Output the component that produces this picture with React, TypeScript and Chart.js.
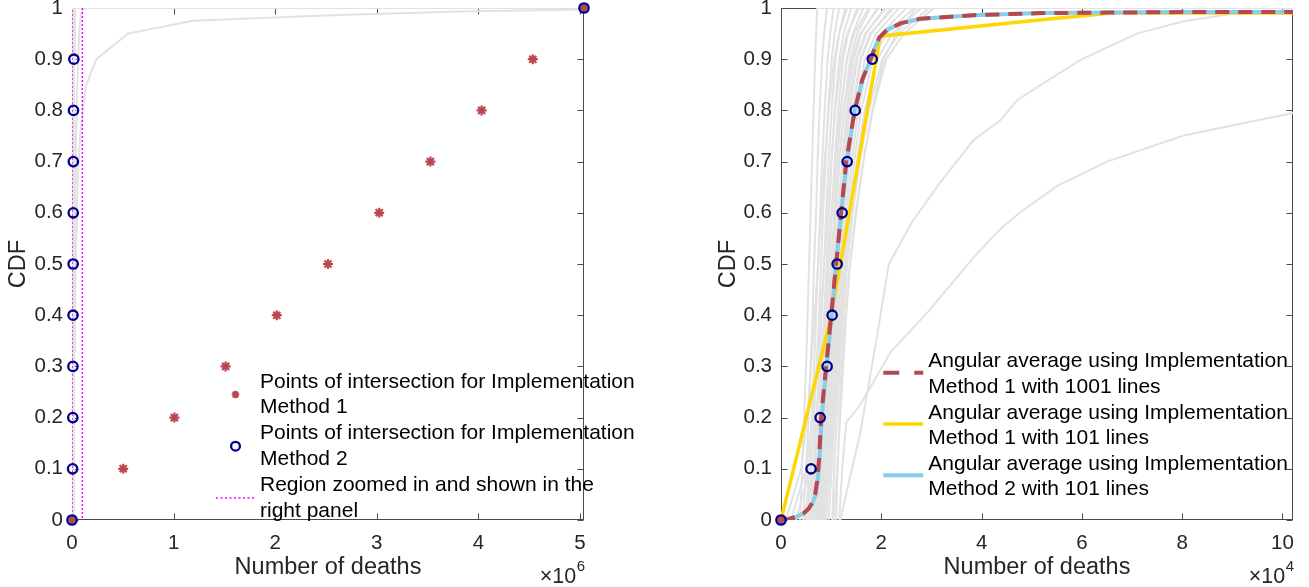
import React, { useEffect, useRef } from 'react';
import { Chart, registerables } from 'chart.js';

Chart.register(...registerables);
Chart.defaults.font.family = '"Liberation Sans", Arial, Helvetica, sans-serif';

// ---------------- DATA (x values in units of 10^4 deaths) ----------------
const cdfLevels = [0, 0.1, 0.2, 0.3, 0.4, 0.5, 0.6, 0.7, 0.8, 0.9, 0.95, 1];

// individual CDF curves (x at each cdf level)
const greyCurves = [
  [0.38, 0.42, 0.46, 0.5, 0.53, 0.56, 0.59, 0.62, 0.65, 0.68, 0.7, 0.72],
  [0.44, 0.5, 0.55, 0.59, 0.63, 0.66, 0.7, 0.73, 0.77, 0.82, 0.86, 0.92],
  [0.5, 0.56, 0.61, 0.66, 0.7, 0.74, 0.78, 0.82, 0.87, 0.93, 0.98, 1.05],
  [0.54, 0.6, 0.66, 0.71, 0.76, 0.8, 0.84, 0.89, 0.94, 1.01, 1.07, 1.16],
  [0.58, 0.65, 0.71, 0.76, 0.81, 0.86, 0.9, 0.95, 1.01, 1.09, 1.16, 1.28],
  [0.62, 0.69, 0.75, 0.81, 0.86, 0.91, 0.96, 1.01, 1.07, 1.16, 1.25, 1.4],
  [0.65, 0.72, 0.79, 0.85, 0.9, 0.96, 1.01, 1.07, 1.14, 1.24, 1.34, 1.52],
  [0.68, 0.76, 0.83, 0.89, 0.95, 1.0, 1.06, 1.12, 1.2, 1.31, 1.43, 1.64],
  [0.71, 0.79, 0.86, 0.92, 0.98, 1.04, 1.1, 1.17, 1.25, 1.38, 1.52, 1.78],
  [0.74, 0.82, 0.89, 0.96, 1.02, 1.08, 1.15, 1.22, 1.31, 1.45, 1.6, 1.92],
  [0.77, 0.85, 0.92, 0.99, 1.06, 1.12, 1.19, 1.27, 1.37, 1.52, 1.7, 2.06],
  [0.8, 0.88, 0.95, 1.02, 1.09, 1.16, 1.23, 1.32, 1.43, 1.6, 1.8, 2.2],
  [0.83, 0.91, 0.98, 1.05, 1.12, 1.19, 1.27, 1.36, 1.48, 1.67, 1.9, 2.35],
  [0.86, 0.94, 1.01, 1.08, 1.15, 1.23, 1.31, 1.41, 1.54, 1.75, 2.0, 2.5],
  [0.9, 0.97, 1.04, 1.11, 1.18, 1.26, 1.35, 1.46, 1.6, 1.83, 2.1, 2.65],
  [0.95, 1.01, 1.07, 1.14, 1.21, 1.29, 1.39, 1.51, 1.67, 1.92, 2.22, 2.8],
  [1.02, 1.06, 1.11, 1.17, 1.24, 1.32, 1.43, 1.57, 1.75, 2.02, 2.35, 2.95],
  [1.1, 1.13, 1.16, 1.21, 1.28, 1.37, 1.49, 1.64, 1.83, 2.1, 2.45, 3.05],
  [0.1, 0.4, 0.52, 0.6, 0.67, 0.74, 0.8, 0.87, 0.95, 1.06, 1.16, 1.32],
  [0.2, 0.5, 0.63, 0.72, 0.79, 0.86, 0.93, 1.0, 1.08, 1.2, 1.32, 1.55],
  [0.3, 0.58, 0.7, 0.79, 0.87, 0.94, 1.01, 1.09, 1.18, 1.32, 1.46, 1.75],
  [0.45, 0.66, 0.76, 0.85, 0.93, 1.0, 1.08, 1.16, 1.26, 1.42, 1.58, 1.95],
  [0.6, 0.72, 0.82, 0.9, 0.98, 1.06, 1.14, 1.23, 1.34, 1.5, 1.68, 2.1],
  [0.7, 0.8, 0.88, 0.95, 1.03, 1.11, 1.2, 1.3, 1.42, 1.58, 1.78, 2.25],
  [1.05, 1.12, 1.18, 1.24, 1.3, 1.38, 1.5, 1.64, 1.82, 2.05, 2.3, 2.7],
];

// two slowly rising curves
const outlierAX = [1.18, 1.58, 1.9, 2.15, 2.6, 3.18, 3.84, 4.37, 4.71, 5.23, 6.0, 7.1, 8.03, 9.03, 10.21, 15, 504];
const outlierAY = [0, 0.17, 0.35, 0.5, 0.58, 0.66, 0.742, 0.78, 0.82, 0.853, 0.9, 0.95, 0.974, 0.989, 0.996, 1, 1];
const outlierBX = [1.16, 1.22, 1.3, 1.58, 2.2, 2.91, 3.85, 4.37, 4.77, 5.5, 6.5, 8.03, 10.21, 14, 24, 55, 119, 256, 380, 504];
const outlierBY = [0, 0.1, 0.19, 0.225, 0.33, 0.404, 0.514, 0.568, 0.601, 0.652, 0.7, 0.751, 0.795, 0.85, 0.9, 0.95, 0.975, 0.986, 0.993, 0.997];

const maxDeaths = 504; // 5.04 x 10^6

// angular averages
const avg1001X = [0, 0.15, 0.3, 0.45, 0.55, 0.62, 0.68, 0.72, 0.76, 0.8, 0.9, 1.0, 1.1, 1.2, 1.3, 1.47, 1.62, 1.79, 1.88, 1.96, 2.11, 2.38, 2.78, 3.84, 5.18, 6.5, 8.0, 10.21];
const avg1001Y = [0, 0.002, 0.006, 0.013, 0.022, 0.033, 0.05, 0.075, 0.12, 0.2, 0.3, 0.4, 0.5, 0.6, 0.7, 0.8, 0.86, 0.9, 0.925, 0.942, 0.957, 0.97, 0.979, 0.986, 0.99, 0.991, 0.992, 0.992];
const avg101X = [0, 0.98, 1.24, 1.98, 5.2, 6.6, 10.21];
const avg101Y = [0, 0.39, 0.53, 0.945, 0.977, 0.99, 0.99];
const avgM2X = [0, 0.15, 0.3, 0.45, 0.55, 0.63, 0.69, 0.73, 0.77, 0.81, 0.91, 1.01, 1.1, 1.2, 1.31, 1.47, 1.62, 1.79, 1.88, 1.96, 2.11, 2.38, 2.78, 3.84, 5.18, 6.5, 8.0, 10.21];
const avgM2Y = [0, 0.002, 0.006, 0.013, 0.022, 0.033, 0.05, 0.075, 0.12, 0.2, 0.3, 0.4, 0.5, 0.6, 0.7, 0.8, 0.86, 0.9, 0.925, 0.942, 0.957, 0.97, 0.979, 0.986, 0.99, 0.991, 0.992, 0.992];

// points of intersection
const intersectLevels = [0, 0.1, 0.2, 0.3, 0.4, 0.5, 0.6, 0.7, 0.8, 0.9, 1];
const intersect1X = [0, 50.4, 100.8, 151.2, 201.6, 252, 302.4, 352.8, 403.2, 453.6, 504];
const intersect2X = [0, 0.6, 0.78, 0.92, 1.02, 1.12, 1.22, 1.32, 1.48, 1.82, 504];

// zoomed region (x bounds)
const zoomRegionX = [0, 10.21];

// axis ranges / ticks
const leftXMax = 504;
const leftXTicks = [0, 100, 200, 300, 400, 500]; // 0..5 x 10^6
const leftXDiv = 100;
const rightXMax = 10.21;
const rightXTicks = [0, 2, 4, 6, 8, 10];
const rightXDiv = 1;
const yTicks = [0, 0.1, 0.2, 0.3, 0.4, 0.5, 0.6, 0.7, 0.8, 0.9, 1];

// texts
const label1 = 'Points of intersection for Implementation\nMethod 1';
const label2 = 'Points of intersection for Implementation\nMethod 2';
const labelRegion = 'Region zoomed in and shown in the\nright panel';
const labelAvg1001 = 'Angular average using Implementation\nMethod 1 with 1001 lines';
const labelAvg101 = 'Angular average using Implementation\nMethod 1 with 101 lines';
const labelAvgM2 = 'Angular average using Implementation\nMethod 2 with 101 lines';

// ---------------- STYLE ----------------
const RED = '#B8474E';
const NAVY = '#00008C';
const YELLOW = '#FFD600';
const SKY = '#87CEEB';
const GREY = '#E2E2E2';
const MAGENTA = '#FF00FF';
const TEXT = '#262626';
const FONT = '"Liberation Sans", Arial, Helvetica, sans-serif';

const pts = (xs: number[], ys: number[]) => xs.map((x, i) => ({ x, y: ys[i] }));

const greyStyle = {
  showLine: true,
  borderColor: GREY,
  backgroundColor: GREY,
  borderWidth: 2,
  pointRadius: 0,
  tension: 0,
  order: 10,
};

function greyDatasets() {
  const sets: any[] = greyCurves.map((xs) => ({
    ...greyStyle,
    data: [...pts(xs, cdfLevels), { x: maxDeaths, y: 1 }],
  }));
  sets.push({ ...greyStyle, data: pts(outlierAX, outlierAY) });
  sets.push({ ...greyStyle, data: pts(outlierBX, outlierBY) });
  return sets;
}

const starSet = (legendOrder?: number) => ({
  label: label1,
  data: pts(intersect1X, intersectLevels),
  showLine: false,
  clip: false,
  pointStyle: 'star',
  pointRadius: 5,
  pointBorderWidth: 2.2,
  pointBorderColor: RED,
  pointBackgroundColor: RED,
  borderColor: RED,
  order: 1,
  legendOrder,
  legendRadius: 3.8,
});

const circleSet = (legendOrder?: number) => ({
  label: label2,
  data: pts(intersect2X, intersectLevels),
  showLine: false,
  clip: false,
  pointStyle: 'circle',
  pointRadius: 4.7,
  pointBorderWidth: 2.3,
  pointBorderColor: NAVY,
  pointBackgroundColor: 'rgba(0,0,0,0)',
  borderColor: NAVY,
  order: 0,
  legendOrder,
  legendRadius: 4.4,
});

// ---------------- PLUGINS ----------------
const boxPlugin = {
  id: 'matlabBox',
  beforeDatasetsDraw(chart: any) {
    const { ctx, chartArea } = chart;
    const { left, right, top, bottom } = chartArea;
    ctx.save();
    ctx.strokeStyle = '#4a4a4a';
    ctx.lineWidth = 1;
    const L = Math.round(left) + 0.5, R = Math.round(right) - 0.5;
    const T = Math.round(top) + 0.5, B = Math.round(bottom) - 0.5;
    ctx.strokeRect(L, T, R - L, B - T);
    const tl = 6;
    ctx.beginPath();
    chart.scales.x.ticks.forEach((t: any) => {
      const px = Math.round(chart.scales.x.getPixelForValue(t.value)) + 0.5;
      ctx.moveTo(px, B); ctx.lineTo(px, B - tl);
      ctx.moveTo(px, T); ctx.lineTo(px, T + tl);
    });
    chart.scales.y.ticks.forEach((t: any) => {
      const py = Math.round(chart.scales.y.getPixelForValue(t.value)) + 0.5;
      ctx.moveTo(L, py); ctx.lineTo(L + tl, py);
      ctx.moveTo(R, py); ctx.lineTo(R - tl, py);
    });
    ctx.stroke();
    ctx.restore();
  },
  afterDraw(chart: any, _args: any, opts: any) {
    if (!opts || !opts.exponent) return;
    const { ctx, chartArea } = chart;
    ctx.save();
    ctx.fillStyle = TEXT;
    ctx.textAlign = 'right';
    ctx.textBaseline = 'alphabetic';
    ctx.font = `15px ${FONT}`;
    const supW = ctx.measureText(opts.exponent).width;
    ctx.fillText(opts.exponent, chartArea.right + 1, 571);
    ctx.font = `21.5px ${FONT}`;
    ctx.fillText('\u00d710', chartArea.right + 0.5 - supW, 583);
    ctx.restore();
  },
};

const legendPlugin = {
  id: 'wrapLegend',
  afterDatasetsDraw(chart: any, _args: any, opts: any) {
    if (!opts || opts.textX === undefined) return;
    const { ctx } = chart;
    const items = chart.data.datasets
      .filter((d: any) => d.legendOrder !== undefined)
      .sort((a: any, b: any) => a.legendOrder - b.legendOrder);
    ctx.save();
    ctx.font = `${opts.fontSize}px ${FONT}`;
    ctx.textAlign = 'left';
    ctx.textBaseline = 'middle';
    items.forEach((ds: any, i: number) => {
      const y0 = opts.top + i * opts.entryGap;
      ctx.fillStyle = '#000';
      String(ds.label).split('\n').forEach((line: string, j: number) => {
        ctx.fillText(line, opts.textX, y0 + j * opts.lineGap);
      });
      const my = y0 + opts.markerDy;
      if (ds.showLine) {
        ctx.save();
        ctx.strokeStyle = ds.borderColor;
        ctx.lineWidth = ds.borderWidth;
        ctx.setLineDash(ds.legendDash || ds.borderDash || []);
        ctx.beginPath();
        ctx.moveTo(opts.sampleX0, my);
        ctx.lineTo(opts.sampleX1, my);
        ctx.stroke();
        ctx.restore();
      } else {
        const cx = (opts.sampleX0 + opts.sampleX1) / 2;
        const r = ds.legendRadius;
        ctx.save();
        ctx.strokeStyle = ds.pointBorderColor;
        ctx.lineWidth = ds.pointBorderWidth;
        ctx.beginPath();
        if (ds.pointStyle === 'star') {
          const d = r * Math.SQRT1_2;
          ctx.moveTo(cx - r, my); ctx.lineTo(cx + r, my);
          ctx.moveTo(cx, my - r); ctx.lineTo(cx, my + r);
          ctx.moveTo(cx - d, my - d); ctx.lineTo(cx + d, my + d);
          ctx.moveTo(cx - d, my + d); ctx.lineTo(cx + d, my - d);
        } else {
          ctx.arc(cx, my, r, 0, Math.PI * 2);
        }
        ctx.stroke();
        ctx.restore();
      }
    });
    ctx.restore();
  },
};

function makeScales(xMax: number, xTicks: number[], div: number, yWidth: number) {
  return {
    x: {
      type: 'linear',
      min: 0,
      max: xMax,
      grid: { display: false, drawTicks: false },
      border: { display: false },
      afterBuildTicks: (s: any) => {
        s.ticks = xTicks.map((v) => ({ value: v }));
      },
      ticks: {
        autoSkip: false,
        maxRotation: 0,
        padding: 11,
        color: TEXT,
        font: { size: 20.5 },
        callback: (v: number) => String(Math.round((v / div) * 100) / 100),
      },
      title: {
        display: true,
        text: 'Number of deaths',
        color: TEXT,
        font: { size: 23.5 },
        padding: { top: 0, bottom: 5 },
      },
      afterFit: (s: any) => {
        s.height = 67;
        s.paddingLeft = 0;
        s.paddingRight = 0;
      },
    },
    y: {
      type: 'linear',
      min: 0,
      max: 1,
      grid: { display: false, drawTicks: false },
      border: { display: false },
      afterBuildTicks: (s: any) => {
        s.ticks = yTicks.map((v) => ({ value: v }));
      },
      ticks: {
        autoSkip: false,
        padding: 9,
        color: TEXT,
        font: { size: 20.5 },
        callback: (v: number) => String(Math.round(v * 10) / 10),
      },
      title: {
        display: true,
        text: 'CDF',
        color: TEXT,
        font: { size: 23.5 },
        padding: { top: 4, bottom: 0 },
      },
      afterFit: (s: any) => {
        s.width = yWidth;
        s.paddingTop = 0;
        s.paddingBottom = 0;
      },
    },
  };
}

function leftConfig(): any {
  const datasets: any[] = [
    ...greyDatasets(),
    {
      label: labelRegion,
      data: [
        { x: zoomRegionX[0], y: 0 },
        { x: zoomRegionX[0], y: 1 },
        { x: zoomRegionX[1], y: null },
        { x: zoomRegionX[1], y: 1 },
        { x: zoomRegionX[1], y: 0 },
      ],
      showLine: true,
      spanGaps: false,
      borderColor: MAGENTA,
      borderWidth: 1.5,
      borderDash: [2, 2],
      legendDash: [2, 2.5],
      pointRadius: 0,
      order: 5,
      legendOrder: 2,
    },
    starSet(0),
    circleSet(1),
  ];
  return {
    type: 'scatter',
    data: { datasets },
    options: {
      responsive: false,
      animation: false,
      devicePixelRatio: 1,
      layout: { padding: { left: 0, top: 8, right: 56, bottom: 0 } },
      scales: makeScales(leftXMax, leftXTicks, leftXDiv, 72),
      plugins: {
        legend: { display: false },
        tooltip: { enabled: false },
        matlabBox: { exponent: '6' },
        wrapLegend: {
          textX: 260,
          top: 382,
          lineGap: 25.5,
          entryGap: 51.7,
          markerDy: 12.5,
          sampleX0: 216,
          sampleX1: 255,
          fontSize: 21,
        },
      },
    },
    plugins: [boxPlugin, legendPlugin],
  };
}

function rightConfig(): any {
  const datasets: any[] = [
    ...greyDatasets(),
    {
      label: labelAvg1001,
      data: pts(avg1001X, avg1001Y),
      showLine: true,
      borderColor: RED,
      borderWidth: 4,
      borderDash: [14, 9],
      legendDash: [16, 15],
      pointRadius: 0,
      order: 2,
      legendOrder: 0,
    },
    {
      label: labelAvg101,
      data: pts(avg101X, avg101Y),
      showLine: true,
      borderColor: YELLOW,
      borderWidth: 3.5,
      pointRadius: 0,
      order: 4,
      legendOrder: 1,
    },
    {
      label: labelAvgM2,
      data: pts(avgM2X, avgM2Y),
      showLine: true,
      borderColor: SKY,
      borderWidth: 4,
      pointRadius: 0,
      order: 3,
      legendOrder: 2,
    },
    starSet(undefined),
    circleSet(undefined),
  ];
  return {
    type: 'scatter',
    data: { datasets },
    options: {
      responsive: false,
      animation: false,
      devicePixelRatio: 1,
      layout: { padding: { left: 60, top: 8, right: 16, bottom: 0 } },
      scales: makeScales(rightXMax, rightXTicks, rightXDiv, 71),
      plugins: {
        legend: { display: false },
        tooltip: { enabled: false },
        matlabBox: { exponent: '4' },
        wrapLegend: {
          textX: 278.3,
          top: 361.7,
          lineGap: 25.2,
          entryGap: 51.3,
          markerDy: 11,
          sampleX0: 233.3,
          sampleX1: 273.3,
          fontSize: 21,
        },
      },
    },
    plugins: [boxPlugin, legendPlugin],
  };
}

export default function App() {
  const leftRef = useRef<HTMLCanvasElement | null>(null);
  const rightRef = useRef<HTMLCanvasElement | null>(null);

  useEffect(() => {
    const charts: Chart[] = [];
    if (leftRef.current) charts.push(new Chart(leftRef.current, leftConfig()));
    if (rightRef.current) charts.push(new Chart(rightRef.current, rightConfig()));
    return () => charts.forEach((c) => c.destroy());
  }, []);

  return (
    <div style={{ position: 'absolute', left: 0, top: 0, width: 1309, height: 587, background: '#fff', overflow: 'hidden' }}>
      <canvas ref={leftRef} width={640} height={587} style={{ position: 'absolute', left: 0, top: 0 }} />
      <canvas ref={rightRef} width={659} height={587} style={{ position: 'absolute', left: 650, top: 0 }} />
    </div>
  );
}
